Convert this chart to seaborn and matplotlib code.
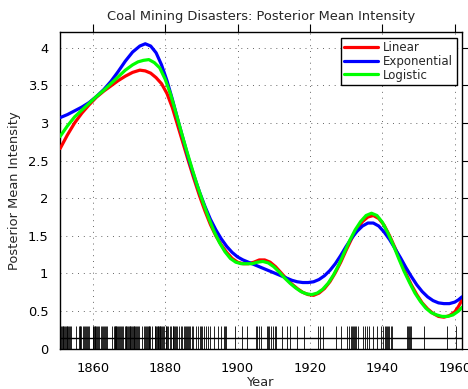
import numpy as np
import pandas as pd
import matplotlib
matplotlib.use("Agg")
import matplotlib.pyplot as plt
import seaborn as sns

# posterior mean intensity, per model
red_years = [1851, 1853, 1855, 1857, 1859, 1861, 1863, 1865, 1867, 1869, 1871, 1873, 1874.5,
             1876, 1877.5, 1879, 1880.5, 1882, 1883.5, 1885, 1886.5, 1888, 1889.5, 1891,
             1892.5, 1894, 1895.5, 1897, 1898.5, 1900, 1901.5, 1903, 1904.5, 1906, 1907.5,
             1909, 1910.5, 1912, 1913.5, 1915, 1916.5, 1918, 1919.5, 1921, 1922.5, 1924,
             1925.5, 1927, 1928.5, 1930, 1931.5, 1933, 1934.5, 1936, 1937.5, 1939, 1940.5,
             1942, 1943.5, 1945, 1946.5, 1948, 1949.5, 1951, 1952.5, 1954, 1955.5, 1957,
             1958.5, 1960, 1961, 1962]
red_vals = [2.66, 2.84, 3.00, 3.13, 3.24, 3.34, 3.42, 3.49, 3.56, 3.62, 3.67, 3.70, 3.69,
            3.66, 3.60, 3.52, 3.39, 3.20, 2.96, 2.72, 2.48, 2.25, 2.03, 1.83,
            1.65, 1.50, 1.38, 1.28, 1.20, 1.15, 1.13, 1.13, 1.15, 1.18, 1.18,
            1.15, 1.09, 1.01, 0.93, 0.86, 0.80, 0.75, 0.72, 0.71, 0.74, 0.80,
            0.89, 1.01, 1.15, 1.31, 1.46, 1.59, 1.69, 1.75, 1.77, 1.73, 1.64,
            1.50, 1.34, 1.17, 1.00, 0.85, 0.72, 0.61, 0.53, 0.47, 0.43, 0.42,
            0.44, 0.49, 0.56, 0.65]

blue_years = [1851, 1853, 1855, 1857, 1859, 1861, 1863, 1865, 1867, 1869, 1871, 1873, 1874.5,
              1876, 1877.5, 1879, 1880.5, 1882, 1883.5, 1885, 1886.5, 1888, 1889.5, 1891,
              1892.5, 1894, 1895.5, 1897, 1898.5, 1900, 1901.5, 1903, 1904.5, 1906, 1907.5,
              1909, 1910.5, 1912, 1913.5, 1915, 1916.5, 1918, 1919.5, 1921, 1922.5, 1924,
              1925.5, 1927, 1928.5, 1930, 1931.5, 1933, 1934.5, 1936, 1937.5, 1939, 1940.5,
              1942, 1943.5, 1945, 1946.5, 1948, 1949.5, 1951, 1952.5, 1954, 1955.5, 1957,
              1958.5, 1960, 1961, 1962]
blue_vals = [3.07, 3.11, 3.16, 3.21, 3.27, 3.35, 3.44, 3.55, 3.68, 3.82, 3.94, 4.02, 4.05,
             4.02, 3.93, 3.77, 3.56, 3.31, 3.04, 2.78, 2.52, 2.29, 2.08, 1.89,
             1.72, 1.58, 1.46, 1.36, 1.28, 1.22, 1.18, 1.15, 1.12, 1.09, 1.06,
             1.03, 1.00, 0.97, 0.94, 0.91, 0.89, 0.88, 0.88, 0.89, 0.92, 0.97,
             1.04, 1.13, 1.24, 1.36, 1.47, 1.56, 1.63, 1.67, 1.67, 1.63, 1.55,
             1.45, 1.33, 1.21, 1.08, 0.96, 0.85, 0.76, 0.69, 0.64, 0.61, 0.60,
             0.60, 0.62, 0.65, 0.69]

green_years = [1851, 1853, 1855, 1857, 1859, 1861, 1863, 1865, 1867, 1869, 1871, 1872.5, 1874,
               1875.5, 1877, 1878.5, 1880, 1881.5, 1883, 1884.5, 1886, 1887.5, 1889, 1890.5,
               1892, 1893.5, 1895, 1896.5, 1898, 1899.5, 1901, 1902.5, 1904, 1905.5, 1907,
               1908.5, 1910, 1911.5, 1913, 1914.5, 1916, 1917.5, 1919, 1920.5, 1922, 1923.5,
               1925, 1926.5, 1928, 1929.5, 1931, 1932.5, 1934, 1935.5, 1937, 1938.5, 1940,
               1941.5, 1943, 1944.5, 1946, 1947.5, 1949, 1950.5, 1952, 1953.5, 1955, 1956.5,
               1958, 1959.5, 1961, 1962]
green_vals = [2.82, 2.96, 3.08, 3.17, 3.26, 3.35, 3.43, 3.52, 3.61, 3.70, 3.77, 3.81, 3.83,
              3.84, 3.80, 3.73, 3.58, 3.38, 3.13, 2.87, 2.62, 2.38, 2.15, 1.94,
              1.74, 1.56, 1.41, 1.29, 1.20, 1.15, 1.13, 1.13, 1.13, 1.15, 1.16,
              1.14, 1.09, 1.02, 0.94, 0.87, 0.81, 0.76, 0.73, 0.72, 0.74, 0.79,
              0.87, 0.98, 1.12, 1.28, 1.44, 1.58, 1.69, 1.77, 1.80, 1.77, 1.68,
              1.54, 1.38, 1.20, 1.03, 0.88, 0.74, 0.63, 0.54, 0.48, 0.45, 0.43,
              0.43, 0.45, 0.50, 0.55]

# disaster dates (decimal years) for the rug
events = [
    1851.20, 1851.45, 1851.70, 1851.90, 1852.10, 1852.30, 1852.55, 1852.75, 1852.95,
    1853.15, 1853.40, 1853.65, 1853.85, 1855.50, 1856.10, 1856.35, 1856.60, 1856.85,
    1857.20, 1857.50, 1857.80, 1858.10, 1858.35, 1858.60, 1858.85,
    1860.05, 1860.20, 1860.40, 1860.55, 1860.75, 1860.90, 1861.20, 1861.50, 1861.80,
    1862.15, 1862.45, 1862.80, 1863.10, 1863.35, 1863.60, 1863.85, 1865.30, 1865.75,
    1866.05, 1866.20, 1866.40, 1866.55, 1866.75, 1866.90, 1867.20, 1867.50, 1867.80,
    1868.15, 1868.45, 1868.80, 1869.10, 1869.30, 1869.50, 1869.70, 1869.90,
    1870.15, 1870.40, 1870.65, 1870.85, 1871.10, 1871.30, 1871.50, 1871.70, 1871.90,
    1872.20, 1872.50, 1872.80, 1873.50, 1874.10, 1874.35, 1874.60, 1874.85,
    1875.15, 1875.40, 1875.65, 1875.90, 1876.50, 1877.10, 1877.30, 1877.50, 1877.70, 1877.90,
    1878.10, 1878.30, 1878.50, 1878.70, 1878.90, 1879.20, 1879.50, 1879.80,
    1880.10, 1880.35, 1880.60, 1880.85, 1881.30, 1881.70,
    1882.10, 1882.30, 1882.50, 1882.70, 1882.90, 1883.30, 1883.70, 1884.25, 1884.75,
    1885.20, 1885.50, 1885.80, 1886.10, 1886.35, 1886.60, 1886.85, 1887.30, 1887.70,
    1888.50, 1889.20, 1889.50, 1889.80, 1890.30, 1890.70, 1891.25, 1891.75,
    1892.40, 1893.60, 1894.50, 1895.30, 1896.15, 1896.50, 1896.85, 1899.40,
    1901.20, 1902.60, 1905.10, 1905.50, 1905.90, 1906.40, 1908.20, 1908.50, 1908.80,
    1909.30, 1909.70, 1910.25, 1910.75, 1912.40, 1913.60, 1914.50, 1916.50, 1918.30,
    1922.30, 1922.70, 1923.50, 1927.30, 1928.60, 1930.30, 1930.70,
    1931.20, 1931.50, 1931.80, 1932.15, 1932.50, 1932.85, 1933.40, 1934.60,
    1935.30, 1935.70, 1936.40, 1937.50, 1938.40, 1939.60, 1940.30, 1940.70,
    1941.10, 1941.35, 1941.60, 1941.85, 1942.30, 1942.70, 1946.80,
    1947.10, 1947.30, 1947.55, 1947.80, 1951.40, 1957.90, 1960.40, 1962.20,
]

x_ticks = [1860, 1880, 1900, 1920, 1940, 1960]
y_ticks = [0, 0.5, 1, 1.5, 2, 2.5, 3, 3.5, 4]
y_ticklabels = ["0", "0.5", "1", "1.5", "2", "2.5", "3", "3.5", "4"]

df = pd.concat([
    pd.DataFrame({"Year": red_years, "Intensity": red_vals, "Model": "Linear"}),
    pd.DataFrame({"Year": blue_years, "Intensity": blue_vals, "Model": "Exponential"}),
    pd.DataFrame({"Year": green_years, "Intensity": green_vals, "Model": "Logistic"}),
], ignore_index=True)

sns.set_style("white")
plt.rcParams["font.family"] = ["DejaVu Sans"]

fig = plt.figure(figsize=(4.68, 3.89), dpi=100)
ax = fig.add_axes([0.1286, 0.1033, 0.8586, 0.8132])

ax.grid(True, linestyle=(0, (1, 5)), color="#666666", linewidth=0.7)
ax.set_axisbelow(True)

# rug of disasters + baseline
ax.vlines(events, 0, 0.3, color="black", linewidth=0.6, zorder=2)
ax.axhline(0.15, color="black", linewidth=1.0, zorder=2)

sns.lineplot(data=df, x="Year", y="Intensity", hue="Model",
             palette={"Linear": "#ff0000", "Exponential": "#0000ff", "Logistic": "#00ff00"},
             linewidth=2.3, sort=True, ax=ax, zorder=3)

ax.set_xlim(1851, 1962)
ax.set_ylim(0, 4.2)
ax.set_xticks(x_ticks)
ax.set_yticks(y_ticks)
ax.set_yticklabels(y_ticklabels)
ax.tick_params(direction="out", length=5.5, width=0.8, top=True, right=True,
               labelsize=9.4, pad=3, colors="black")
ax.tick_params(axis="x", pad=4)
for s in ax.spines.values():
    s.set_visible(True)
    s.set_color("black")
    s.set_linewidth(1.0)

ax.set_title("Coal Mining Disasters: Posterior Mean Intensity", fontsize=9.4, pad=9)
ax.set_xlabel("Year", fontsize=9.4, labelpad=1)
ax.set_ylabel("Posterior Mean Intensity", fontsize=9.4, labelpad=5)

leg = ax.legend(loc="upper right", fontsize=8.5, frameon=True, fancybox=False,
                edgecolor="black", framealpha=1, handlelength=2.9, handletextpad=0.4,
                borderpad=0.3, labelspacing=0.05, borderaxespad=0.45)
leg.get_frame().set_linewidth(1.0)
leg.set_title(None)

fig.savefig("out.png", dpi=100)
